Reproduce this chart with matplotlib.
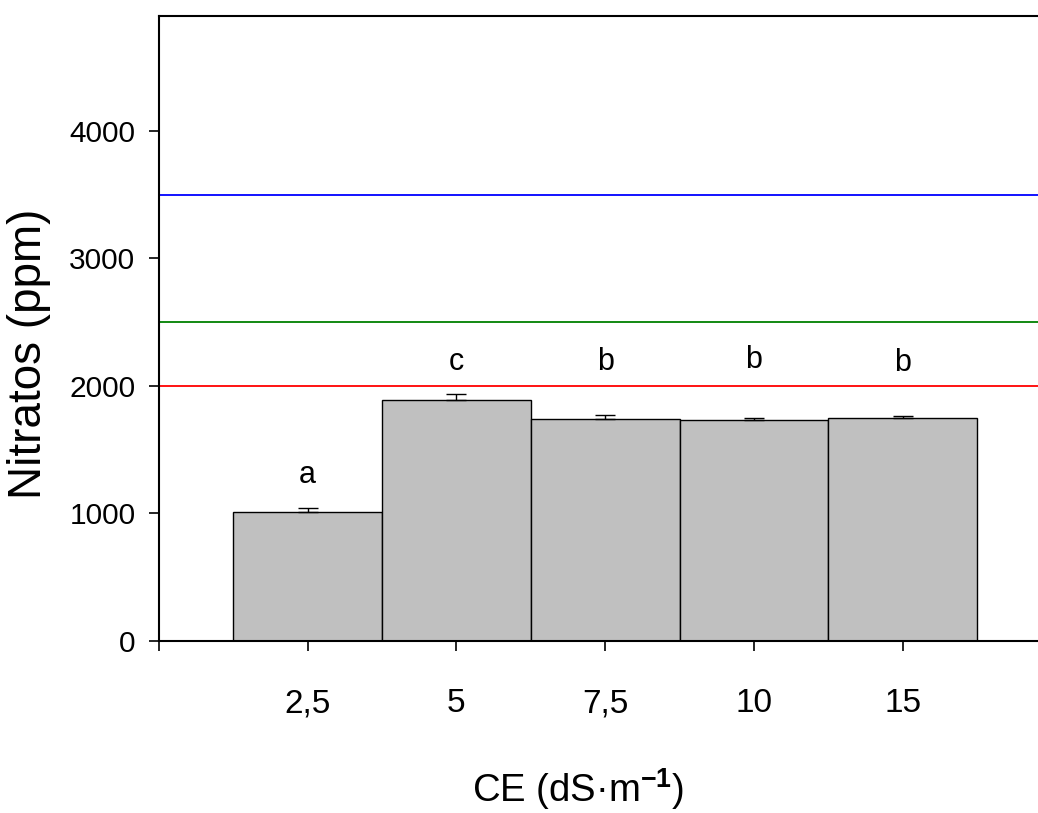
import matplotlib
matplotlib.use("Agg")
import matplotlib.pyplot as plt
import numpy as np

plt.rcParams['font.family'] = ['Liberation Sans', 'DejaVu Sans']
plt.rcParams['mathtext.fontset'] = 'custom'
plt.rcParams['mathtext.rm'] = 'Liberation Sans'
plt.rcParams['mathtext.bf'] = 'Liberation Sans:bold'

# data
ce_labels = ['2,5', '5', '7,5', '10', '15']
nitratos = [1014, 1887, 1738, 1730, 1748]
err_up = [31, 52, 36, 20, 18]
letters = ['a', 'c', 'b', 'b', 'b']
letter_y = [1300, 2188, 2188, 2203, 2180]
ref_levels = [2000, 2500, 3500]
ref_colors = ['#ff0000', '#008000', '#0000ff']

fig = plt.figure(figsize=(10.38, 8.13), dpi=100)
ax = fig.add_axes([159 / 1038, 1 - 641 / 813, 1 - 159 / 1038, (641 - 16) / 813])

x = np.arange(len(ce_labels))
ax.bar(x, nitratos, width=1.0, color='#c0c0c0', edgecolor='black', linewidth=1.0, zorder=2)
ax.errorbar(x, nitratos, yerr=[np.zeros(len(x)), err_up], fmt='none',
            ecolor='black', elinewidth=1.0, capsize=7, capthick=1.0, zorder=3)

for lvl, col in zip(ref_levels, ref_colors):
    ax.axhline(lvl, color=col, linewidth=1.3, zorder=1)

for xi, t, yt in zip(x, letters, letter_y):
    ax.text(xi, yt, t, ha='center', va='center', fontsize=22)

ax.set_xlim(-1, 4.91)
ax.set_ylim(0, 4900)
ax.set_xticks(np.arange(-1, len(ce_labels)))
ax.set_xticklabels([''] + ce_labels)
ax.set_yticks([0, 1000, 2000, 3000, 4000])

ax.tick_params(axis='x', direction='out', length=7, width=1.2, pad=27, labelsize=24)
ax.tick_params(axis='y', direction='out', length=7, width=1.2, pad=10, labelsize=21.5)

ax.spines['right'].set_visible(False)
for s in ['left', 'top', 'bottom']:
    ax.spines[s].set_linewidth(1.5)

fig.text(29 / 1038, 1 - 354 / 813, 'Nitratos (ppm)', rotation=90,
         ha='center', va='center', fontsize=33)
fig.text(578 / 1038, 1 - 802 / 813, r'CE (dS·m$^{\mathbf{-1}}$)',
         ha='center', va='baseline', fontsize=27.5)

fig.savefig('out.png', dpi=100)
